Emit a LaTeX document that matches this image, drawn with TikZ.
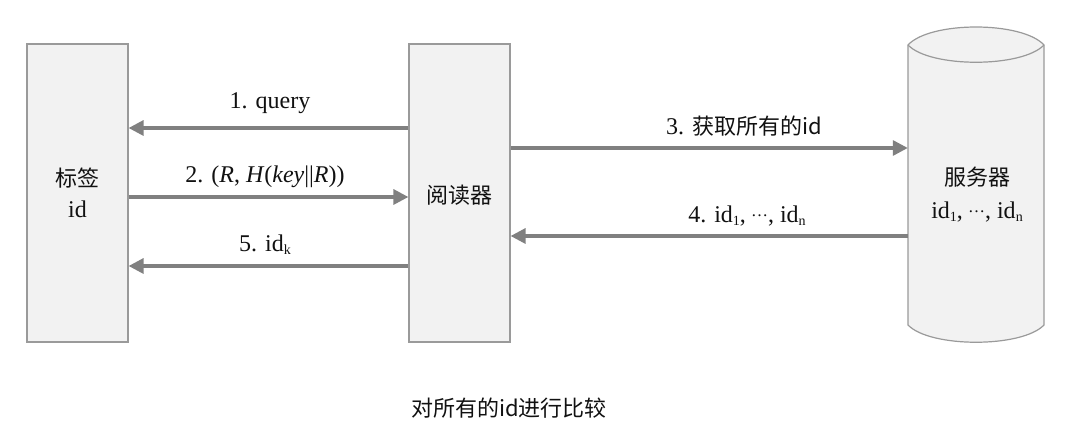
\documentclass[tikz,border=0pt]{standalone}
\usepackage{fontspec}
\setmainfont{Liberation Serif}
\newfontfamily\cjk{Noto Sans CJK SC}
\usetikzlibrary{arrows.meta}
\definecolor{boxgray}{HTML}{9A9A9A}
\definecolor{boxfill}{HTML}{F2F2F2}
\definecolor{arrgray}{HTML}{808080}
\definecolor{txt}{HTML}{111111}
\newcommand{\lsub}[1]{\raisebox{-0.2ex}{\fontsize{14}{14}\selectfont #1}}
\newcommand{\mdots}{\raisebox{0.28em}{\fontsize{17}{17}\selectfont\kern-0.05em …}}
\begin{document}
\begin{tikzpicture}[x=1pt,y=-1pt,
 box/.style={draw=boxgray,fill=boxfill,line width=1.2pt,minimum width=101pt,minimum height=298pt,inner sep=0pt,align=center,text=txt},
 msg/.style={draw=arrgray,line width=3.2pt,-{Triangle[length=15pt,width=15pt]}},
 lbl/.style={text=txt,font=\fontsize{24}{28}\selectfont,inner sep=0pt,anchor=base},
 cjklbl/.style={text=txt,font=\fontsize{22}{28}\selectfont\cjk,inner sep=0pt}]
\useasboundingbox (0,0) rectangle (1080,435);
% boxes
\node[box] (tag) at (77.5,193) {};
\node[box] (reader) at (459.5,193) {};
\node[minimum width=136pt,minimum height=315pt,inner sep=0pt] (server) at (976,184.5) {};
\path[draw=boxgray,fill=boxfill,line width=1.2pt] (908,45) .. controls (930,21) and (1022,21) .. (1044,45) -- (1044,325) .. controls (1022,348) and (930,348) .. (908,325) -- cycle;
\draw[boxgray,line width=1.2pt] (908,45) .. controls (930,68) and (1022,68) .. (1044,45);
% box texts
\node[cjklbl] (tagname) at (77.5,178) {标签};
\node[lbl] (tagid) at (77.5,218) {id};
\node[cjklbl] (readername) at (459.5,195) {阅读器};
\node[cjklbl] (servername) at (977,177) {服务器};
\node[lbl] (serverids) at (977,219) {id\lsub{1}, \mdots, id\lsub{n}};
% connectors
\coordinate (y1) at (0,128);
\coordinate (y2) at (0,197);
\coordinate (y5) at (0,266);
\coordinate (y3) at (0,148);
\coordinate (y4) at (0,236);
\draw[msg] (reader.west |- y1) -- (tag.east |- y1);
\draw[msg] (tag.east |- y2) -- (reader.west |- y2);
\draw[msg] (reader.west |- y5) -- (tag.east |- y5);
\draw[msg] (reader.east |- y3) -- (server.west |- y3);
\draw[msg] (server.west |- y4) -- (reader.east |- y4);
% labels
\node[lbl] (l1) at (270,109) {1. query};
\node[lbl] (l2) at (265,183) {2. (\textit{R}, \textit{H}(\textit{key}||\textit{R}))};
\node[lbl] (l5) at (265,252) {5. id\lsub{k}};
\node[lbl] (l3) at (744,135) {3. {\cjk\fontsize{22}{28}\selectfont 获取所有的id}};
\node[lbl] (l4) at (747,223) {4. id\lsub{1}, \mdots, id\lsub{n}};
\node[cjklbl] (note) at (509,408) {对所有的id进行比较};
\end{tikzpicture}
\end{document}
